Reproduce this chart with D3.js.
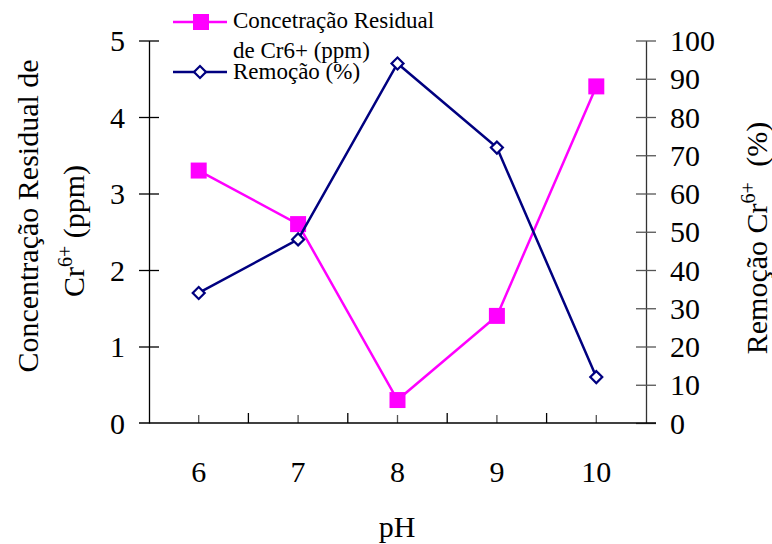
<!DOCTYPE html>
<html>
<head>
<meta charset="utf-8">
<script src="https://cdn.jsdelivr.net/npm/d3@7"></script>
<style>
  body { margin: 0; background: #fff; }
  svg text { font-family: "Liberation Serif", "Times New Roman", serif; }
</style>
</head>
<body>
<div id="chart"></div>
<script>
// 1: DATA
const phValues = ["6", "7", "8", "9", "10"];
const concentracao = [3.3, 2.6, 0.3, 1.4, 4.4];   // ppm, left axis
const remocao = [34, 48, 94, 72, 12];             // %, right axis
const leftTicks = [0, 1, 2, 3, 4, 5];
const rightTicks = [0, 10, 20, 30, 40, 50, 60, 70, 80, 90, 100];

// 2: LAYOUT
const W = 772, H = 544;
const plot = { left: 149, right: 646, top: 40.5, bottom: 423 };
const SERIF = '"Liberation Serif", "Times New Roman", serif';

const svg = d3.select("#chart")
    .append("svg")
    .attr("width", W)
    .attr("height", H);

// 3: SCALES
const xScale = d3.scaleBand()
    .domain(phValues)
    .range([plot.left, plot.right]);
const xc = d => xScale(d) + xScale.bandwidth() / 2;

const yLeft = d3.scaleLinear().domain([0, 5]).range([plot.bottom, plot.top]);
const yRight = d3.scaleLinear().domain([0, 100]).range([plot.bottom, plot.top]);

// 4: AXES
// left axis, ticks cross the line
const gLeft = svg.append("g")
    .attr("transform", `translate(${plot.left},0)`)
    .call(d3.axisLeft(yLeft).tickValues(leftTicks).tickFormat(d3.format("d"))
        .tickSize(10).tickSizeOuter(0).tickPadding(14));
gLeft.selectAll(".tick line").attr("x1", 10);
gLeft.selectAll(".tick").filter(d => d === 0).select("line").remove();

// right axis
const gRight = svg.append("g")
    .attr("transform", `translate(${plot.right},0)`)
    .call(d3.axisRight(yRight).tickValues(rightTicks).tickFormat(d3.format("d"))
        .tickSize(10).tickSizeOuter(0).tickPadding(14));
gRight.selectAll(".tick line").attr("x1", -10).attr("stroke", "#555");
gRight.select(".domain").attr("stroke", "#333");

[gLeft, gRight].forEach(g => {
    g.attr("font-family", SERIF).attr("font-size", 30);
    g.selectAll(".domain").attr("stroke-width", 1.3);
    g.selectAll(".tick line").attr("stroke-width", 1.3);
    g.selectAll(".tick text")
        .attr("dy", "0.34em")
        .attr("fill", "#000");
});

// bottom axis: short ticks at category centres, longer ticks between categories
const gBottom = svg.append("g")
    .attr("transform", `translate(0,${plot.bottom})`)
    .call(d3.axisBottom(xScale).tickSize(-8).tickPadding(38));
gBottom.attr("font-family", SERIF).attr("font-size", 30);
gBottom.select(".domain").remove();
gBottom.selectAll(".tick line").attr("stroke", "#555").attr("stroke-width", 1.3);
gBottom.selectAll(".tick text").attr("fill", "#000");

gBottom.selectAll(".sep")
    .data(phValues.slice(1))
    .enter()
    .append("line")
    .attr("class", "sep")
    .attr("x1", d => xScale(d)).attr("x2", d => xScale(d))
    .attr("y1", 0).attr("y2", -10)
    .attr("stroke", "#000")
    .attr("stroke-width", 1.3);

gBottom.append("line")
    .attr("x1", plot.left - 10).attr("x2", plot.right + 10)
    .attr("y1", 0).attr("y2", 0)
    .attr("stroke", "#000")
    .attr("stroke-width", 1.3);

// 5: AXIS TITLES
svg.append("text")
    .attr("transform", "translate(38,216) rotate(-90)")
    .attr("text-anchor", "middle")
    .attr("font-family", SERIF)
    .attr("font-size", 30)
    .text("Concentração Residual de");

const leftTitle2 = svg.append("text")
    .attr("transform", "translate(84,231) rotate(-90)")
    .attr("text-anchor", "middle")
    .attr("font-family", SERIF)
    .attr("font-size", 30);
leftTitle2.append("tspan").text("Cr");
leftTitle2.append("tspan").attr("dy", -12).attr("font-size", 20).text("6+");
leftTitle2.append("tspan").attr("dy", 12).text(" (ppm)");

const rightTitle = svg.append("text")
    .attr("transform", "translate(767,238) rotate(-90)")
    .attr("text-anchor", "middle")
    .attr("font-family", SERIF)
    .attr("font-size", 30);
rightTitle.append("tspan").text("Remoção Cr");
rightTitle.append("tspan").attr("dy", -12).attr("font-size", 20).text("6+");
rightTitle.append("tspan").attr("dy", 12).attr("dx", 8).text(" (%)");

svg.append("text")
    .attr("x", 397)
    .attr("y", 537)
    .attr("text-anchor", "middle")
    .attr("font-family", SERIF)
    .attr("font-size", 30)
    .text("pH");

// 6: SERIES
const seriesConc = phValues.map((p, i) => ({ p, v: concentracao[i] }));
const seriesRem = phValues.map((p, i) => ({ p, v: remocao[i] }));

const magenta = "#ff00ff", navy = "#000080";
const squareSym = d3.symbol().type(d3.symbolSquare).size(256);
const diamondSym = d3.symbol().type(d3.symbolSquare).size(72);

svg.append("path")
    .datum(seriesConc)
    .attr("fill", "none")
    .attr("stroke", magenta)
    .attr("stroke-width", 2.5)
    .attr("d", d3.line().x(d => xc(d.p)).y(d => yLeft(d.v)));

svg.selectAll(".sq")
    .data(seriesConc)
    .enter()
    .append("path")
    .attr("class", "sq")
    .attr("d", squareSym)
    .attr("transform", d => `translate(${xc(d.p)},${yLeft(d.v)})`)
    .attr("fill", magenta);

svg.append("path")
    .datum(seriesRem)
    .attr("fill", "none")
    .attr("stroke", navy)
    .attr("stroke-width", 2.5)
    .attr("d", d3.line().x(d => xc(d.p)).y(d => yRight(d.v)));

svg.selectAll(".dm")
    .data(seriesRem)
    .enter()
    .append("path")
    .attr("class", "dm")
    .attr("d", diamondSym)
    .attr("transform", d => `translate(${xc(d.p)},${yRight(d.v)}) rotate(45)`)
    .attr("fill", "#fff")
    .attr("stroke", navy)
    .attr("stroke-width", 2.2);

// 7: LEGEND
const legend = svg.append("g")
    .attr("font-family", SERIF)
    .attr("font-size", 23);
legend.append("line")
    .attr("x1", 173).attr("x2", 227).attr("y1", 22).attr("y2", 22)
    .attr("stroke", magenta).attr("stroke-width", 2.5);
legend.append("path")
    .attr("d", squareSym)
    .attr("transform", "translate(201,22)")
    .attr("fill", magenta);
legend.append("text").attr("x", 233).attr("y", 28).text("Concetração Residual");
legend.append("text").attr("x", 233).attr("y", 58).text("de Cr6+ (ppm)");

legend.append("line")
    .attr("x1", 173).attr("x2", 227).attr("y1", 72).attr("y2", 72)
    .attr("stroke", navy).attr("stroke-width", 2.5);
legend.append("path")
    .attr("d", diamondSym)
    .attr("transform", "translate(200,72) rotate(45)")
    .attr("fill", "#fff")
    .attr("stroke", navy)
    .attr("stroke-width", 2.2);
legend.append("text").attr("x", 233).attr("y", 79).text("Remoção (%)");
</script>
</body>
</html>
